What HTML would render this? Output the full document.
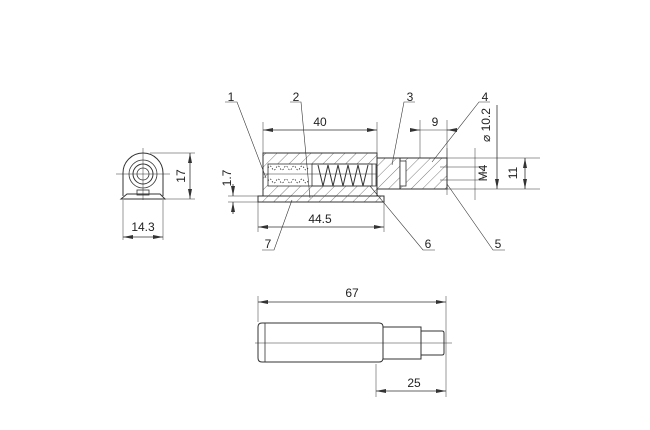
<!DOCTYPE html>
<html><head><style>html,body{margin:0;background:#fff}svg{display:block}</style></head><body>
<svg width="650" height="430" viewBox="0 0 650 430" xmlns="http://www.w3.org/2000/svg" font-family="Liberation Sans, sans-serif" font-size="11" fill="none" stroke="#333" stroke-width="0.8">
<defs>
<marker id="a" viewBox="0 0 10 4" refX="10" refY="2" markerWidth="10" markerHeight="4" orient="auto-start-reverse" markerUnits="userSpaceOnUse"><path d="M0,0L10,2L0,4z" fill="#333" stroke="none"/></marker>
<pattern id="h" width="8" height="8" patternUnits="userSpaceOnUse" patternTransform="rotate(45)"><line x1="0" y1="0" x2="0" y2="8" stroke="#444" stroke-width="0.7"/></pattern>
</defs>
<!-- side view -->
<path d="M123,196 L123,173 A20,20 0 0 1 163,173 L163,196" stroke-width="1"/>
<circle cx="143" cy="174" r="14"/><circle cx="143" cy="174" r="10" stroke-width="1"/><circle cx="143" cy="174" r="6"/>
<path d="M121,199 L127,194 L160,194 L165,199 Z" stroke-width="1"/>
<rect x="137" y="190" width="12" height="5"/>
<line x1="143" y1="148" x2="143" y2="200" stroke-width="0.5"/><line x1="116" y1="174" x2="170" y2="174" stroke-width="0.5"/>
<line x1="150" y1="153" x2="195" y2="153" stroke-width="0.5"/><line x1="165" y1="199" x2="195" y2="199" stroke-width="0.5"/>
<line x1="190" y1="153" x2="190" y2="199" marker-start="url(#a)" marker-end="url(#a)"/>
<text x="185" y="176" transform="rotate(-90 185 176)" fill="#222" stroke="none" text-anchor="middle" font-size="12">17</text>
<line x1="123" y1="200" x2="123" y2="240" stroke-width="0.5"/><line x1="163" y1="200" x2="163" y2="240" stroke-width="0.5"/>
<line x1="123" y1="237" x2="163" y2="237" marker-start="url(#a)" marker-end="url(#a)"/>
<text x="143" y="231" fill="#222" stroke="none" text-anchor="middle" font-size="12">14.3</text>
<!-- 1.7 -->
<line x1="228" y1="196" x2="258" y2="196" stroke-width="0.5"/><line x1="228" y1="202" x2="258" y2="202" stroke-width="0.5"/>
<line x1="233" y1="184" x2="233" y2="196" marker-end="url(#a)"/><line x1="233" y1="214" x2="233" y2="202" marker-end="url(#a)"/>
<text x="231" y="178" transform="rotate(-90 231 178)" fill="#222" stroke="none" text-anchor="middle" font-size="12">1.7</text>
<!-- section body -->
<rect x="263" y="153" width="114" height="43" fill="url(#h)" stroke-width="1"/>
<rect x="268" y="164" width="108" height="22" fill="#fff"/>
<path d="M268,168 q2,-4 4,0 q2,4 4,0 q2,-4 4,0 q2,4 4,0 q2,-4 4,0 q2,4 4,0 q2,-4 4,0 q2,4 4,0 q2,-4 4,0 q2,4 4,0" stroke-dasharray="1.5 1.5"/>
<path d="M268,181 q2,-4 4,0 q2,4 4,0 q2,-4 4,0 q2,4 4,0 q2,-4 4,0 q2,4 4,0 q2,-4 4,0 q2,4 4,0 q2,-4 4,0 q2,4 4,0" stroke-dasharray="1.5 1.5"/>
<path d="M312,164 h60 v22 h-60 z"/>
<path d="M318,165 l5,21 l5,-21 l5,21 l5,-21 l5,21 l5,-21 l5,21 l5,-21 l5,21 l5,-21" stroke-width="1"/>
<line x1="263" y1="174" x2="377" y2="174" stroke-width="0.5"/>
<rect x="258" y="196" width="126" height="6" fill="url(#h)" stroke-width="1"/>
<rect x="377" y="158" width="23" height="31" fill="url(#h)" stroke-width="1"/>
<rect x="400" y="158" width="47" height="31" fill="url(#h)" stroke-width="1"/>
<rect x="400" y="161" width="6" height="25" fill="#fff"/>
<line x1="447" y1="158" x2="540" y2="158" stroke-width="0.6"/><line x1="447" y1="189" x2="540" y2="189" stroke-width="0.6"/>
<line x1="440" y1="167" x2="478" y2="167" stroke-width="0.5"/><line x1="440" y1="180" x2="478" y2="180" stroke-width="0.5"/>
<line x1="447" y1="148" x2="447" y2="195" stroke-width="0.5"/><line x1="475" y1="148" x2="475" y2="200" stroke-width="0.5"/>
<!-- dims top -->
<line x1="263" y1="153" x2="263" y2="122" stroke-width="0.5"/><line x1="377" y1="153" x2="377" y2="122" stroke-width="0.5"/>
<line x1="263" y1="130" x2="377" y2="130" marker-start="url(#a)" marker-end="url(#a)"/>
<text x="320" y="126" fill="#222" stroke="none" text-anchor="middle" font-size="12">40</text>
<line x1="420" y1="158" x2="420" y2="120" stroke-width="0.5"/><line x1="447" y1="158" x2="447" y2="120" stroke-width="0.5"/>
<line x1="410" y1="130" x2="420" y2="130" marker-end="url(#a)"/><line x1="457" y1="130" x2="447" y2="130" marker-end="url(#a)"/><line x1="420" y1="130" x2="447" y2="130" stroke-width="0.5"/>
<text x="435" y="126" fill="#222" stroke="none" text-anchor="middle" font-size="12">9</text>
<line x1="497" y1="105" x2="497" y2="189" marker-end="url(#a)"/>
<text x="490" y="125" transform="rotate(-90 490 125)" fill="#222" stroke="none" text-anchor="middle" font-size="12">⌀ 10.2</text>
<line x1="483" y1="167" x2="483" y2="180" stroke-width="0.5"/>
<text x="487" y="173" transform="rotate(-90 487 173)" fill="#222" stroke="none" text-anchor="middle" font-size="12">M4</text>
<line x1="525" y1="158" x2="525" y2="189" marker-start="url(#a)" marker-end="url(#a)"/>
<text x="517" y="173" transform="rotate(-90 517 173)" fill="#222" stroke="none" text-anchor="middle" font-size="12">11</text>
<!-- 44.5 -->
<line x1="258" y1="202" x2="258" y2="232" stroke-width="0.5"/><line x1="384" y1="202" x2="384" y2="232" stroke-width="0.5"/>
<line x1="258" y1="227" x2="384" y2="227" marker-start="url(#a)" marker-end="url(#a)"/>
<text x="320" y="223" fill="#222" stroke="none" text-anchor="middle" font-size="12">44.5</text>
<!-- leaders -->
<g stroke-width="0.6">
<polyline points="225,102 237,102 266,178"/><polyline points="290,102 301,102 310,198"/>
<polyline points="415,102 404,102 392,165"/><polyline points="490,102 479,102 432,162"/>
<polyline points="505,250 493,250 447,184"/><polyline points="435,250 423,250 370,186"/>
<polyline points="262,250 274,250 292,200"/>
</g>
<g fill="#222" stroke="none" font-size="12" text-anchor="middle">
<text x="231" y="101">1</text><text x="296" y="101">2</text><text x="410" y="101">3</text><text x="485" y="101">4</text>
<text x="498" y="248">5</text><text x="428" y="248">6</text><text x="268" y="248">7</text>
</g>
<!-- bottom view -->
<path d="M262,323 H379 Q383,323 383,327 V358 Q383,362 379,362 H262 Q258,362 258,358 V327 Q258,323 262,323 Z" stroke-width="1"/>
<line x1="265" y1="323" x2="265" y2="362"/>
<rect x="383" y="327" width="38" height="32" stroke-width="1"/>
<path d="M421,331 H442 Q444,331 444,333 V353 Q444,355 442,355 H421" stroke-width="1"/>
<line x1="255" y1="343" x2="452" y2="343" stroke-width="0.5"/>
<line x1="258" y1="322" x2="258" y2="296" stroke-width="0.5"/><line x1="446" y1="296" x2="446" y2="397" stroke-width="0.5"/>
<line x1="258" y1="302" x2="446" y2="302" marker-start="url(#a)" marker-end="url(#a)"/>
<text x="352" y="297" fill="#222" stroke="none" text-anchor="middle" font-size="12">67</text>
<line x1="376" y1="364" x2="376" y2="397" stroke-width="0.5"/>
<line x1="376" y1="391" x2="446" y2="391" marker-start="url(#a)" marker-end="url(#a)"/>
<text x="414" y="387" fill="#222" stroke="none" text-anchor="middle" font-size="12">25</text>
</svg>
</body></html>
